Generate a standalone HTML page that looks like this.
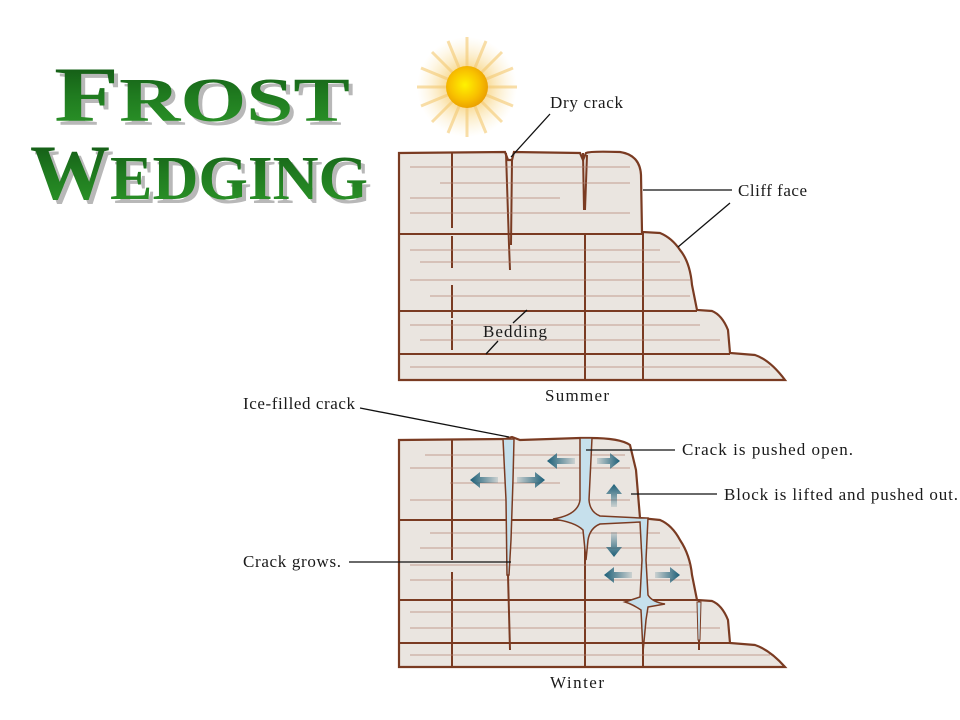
<!DOCTYPE html>
<html><head><meta charset="utf-8"><style>
html,body{margin:0;padding:0;background:#fff;}
svg{display:block;}
text{font-family:"Liberation Serif",serif;fill:#1a1a1a;}
</style></head><body>
<svg width="960" height="720" viewBox="0 0 960 720" xmlns="http://www.w3.org/2000/svg">
<defs>
<linearGradient id="g" x1="0" y1="0" x2="0" y2="1">
<stop offset="0" stop-color="#0f4d12"/><stop offset="0.5" stop-color="#1f7a1f"/><stop offset="1" stop-color="#2e9a2a"/>
</linearGradient>
<radialGradient id="sun" cx="0.45" cy="0.45" r="0.6">
<stop offset="0" stop-color="#fff200"/><stop offset="0.6" stop-color="#f8c000"/><stop offset="1" stop-color="#e89a00"/>
</radialGradient>
<radialGradient id="glow" cx="0.5" cy="0.5" r="0.5">
<stop offset="0.3" stop-color="#f5c860" stop-opacity="0.8"/><stop offset="1" stop-color="#fbe6b0" stop-opacity="0"/>
</radialGradient>
<linearGradient id="arL" x1="0" y1="0" x2="1" y2="0"><stop offset="0" stop-color="#1c5f78"/><stop offset="1" stop-color="#1c5f78" stop-opacity="0.15"/></linearGradient>
<linearGradient id="arR" x1="1" y1="0" x2="0" y2="0"><stop offset="0" stop-color="#1c5f78"/><stop offset="1" stop-color="#1c5f78" stop-opacity="0.15"/></linearGradient>
<linearGradient id="arU" x1="0" y1="0" x2="0" y2="1"><stop offset="0" stop-color="#1c5f78"/><stop offset="1" stop-color="#1c5f78" stop-opacity="0.15"/></linearGradient>
<linearGradient id="arD" x1="0" y1="1" x2="0" y2="0"><stop offset="0" stop-color="#1c5f78"/><stop offset="1" stop-color="#1c5f78" stop-opacity="0.15"/></linearGradient>
</defs>

<!-- Title -->
<g font-family="Liberation Serif,serif" font-weight="bold">
<text x="58" y="125" font-size="78" style="fill:#b8b8b8" textLength="296" lengthAdjust="spacingAndGlyphs">F<tspan font-size="62">ROST</tspan></text>
<text x="54" y="121" font-size="78" style="fill:url(#g)" textLength="296" lengthAdjust="spacingAndGlyphs">F<tspan font-size="62">ROST</tspan></text>
<text x="34" y="203" font-size="78" style="fill:#b8b8b8" textLength="338" lengthAdjust="spacingAndGlyphs">W<tspan font-size="62">EDGING</tspan></text>
<text x="30" y="199" font-size="78" style="fill:url(#g)" textLength="338" lengthAdjust="spacingAndGlyphs">W<tspan font-size="62">EDGING</tspan></text>
</g>

<!-- Sun -->
<circle cx="467" cy="87" r="50" fill="url(#glow)"/>
<g stroke="#f3c870" stroke-width="3" stroke-opacity="0.6" transform="translate(467,87)">
<line x1="0" y1="-50" x2="0" y2="50"/><line x1="-50" y1="0" x2="50" y2="0"/>
<line x1="-35" y1="-35" x2="35" y2="35"/><line x1="-35" y1="35" x2="35" y2="-35"/>
<line x1="-19" y1="-46" x2="19" y2="46"/><line x1="19" y1="-46" x2="-19" y2="46"/>
<line x1="-46" y1="-19" x2="46" y2="19"/><line x1="-46" y1="19" x2="46" y2="-19"/>
</g>
<circle cx="467" cy="87" r="21" fill="url(#sun)"/>

<!-- Summer block -->
<g stroke="#7a3b22" fill="none">
<path d="M399,153 L505,152 L508,160 L512,160 L514,152 L580,153 L583,160 L586,153 Q590,151 620,152 Q640,155 641,175 L642,232 L660,233 Q672,238 680,250 Q690,262 692,285 L697,310 L712,311 Q722,315 728,330 L730,353 L755,355 Q770,360 785,380 L399,380 Z" fill="#eae5e0" stroke-width="2.2"/>
<g stroke-width="2">
<line x1="399" y1="234" x2="642" y2="234"/>
<line x1="399" y1="311" x2="697" y2="311"/>
<line x1="399" y1="354" x2="730" y2="354"/>
<line x1="452" y1="153" x2="452" y2="228"/>
<line x1="452" y1="236" x2="452" y2="268"/>
<line x1="452" y1="285" x2="452" y2="318"/>
<line x1="452" y1="320" x2="452" y2="350"/>
<line x1="585" y1="234" x2="585" y2="380"/>
<line x1="643" y1="232" x2="643" y2="380"/>
<path d="M506,153 L509,245 L510,270 M512,160 L511,245"/>
<path d="M583,153 L584,210 M587,155 L585,210"/>
</g>
<g stroke="#b08070" stroke-width="1" opacity="0.7">
<line x1="410" y1="167" x2="630" y2="167"/><line x1="440" y1="183" x2="630" y2="183"/>
<line x1="410" y1="198" x2="560" y2="198"/><line x1="410" y1="213" x2="630" y2="213"/>
<line x1="410" y1="250" x2="660" y2="250"/><line x1="420" y1="262" x2="680" y2="262"/>
<line x1="410" y1="280" x2="690" y2="280"/><line x1="430" y1="296" x2="690" y2="296"/>
<line x1="410" y1="325" x2="700" y2="325"/><line x1="420" y1="340" x2="720" y2="340"/>
<line x1="410" y1="367" x2="770" y2="367"/>
</g>
</g>

<!-- Winter block -->
<g stroke="#7a3b22" fill="none">
<path d="M399,440 L505,439 L512,437 L520,440 L580,438 L590,438 Q620,438 630,445 L636,470 L640,518 L660,520 Q672,525 680,540 Q690,555 692,575 L697,600 L712,601 Q722,605 728,620 L730,643 L755,645 Q770,650 785,667 L399,667 Z" fill="#eae5e0" stroke-width="2.2"/>
<g stroke-width="2">
<line x1="399" y1="520" x2="643" y2="520"/>
<line x1="399" y1="600" x2="697" y2="600"/>
<line x1="399" y1="643" x2="730" y2="643"/>
<line x1="452" y1="440" x2="452" y2="560"/>
<line x1="452" y1="572" x2="452" y2="667"/>
<line x1="585" y1="520" x2="585" y2="667"/>
<line x1="643" y1="520" x2="643" y2="667"/>
<line x1="699" y1="600" x2="699" y2="650"/>
</g>
<g stroke="#b08070" stroke-width="1" opacity="0.7">
<line x1="425" y1="455" x2="625" y2="455"/><line x1="410" y1="468" x2="630" y2="468"/>
<line x1="450" y1="483" x2="560" y2="483"/><line x1="410" y1="500" x2="630" y2="500"/>
<line x1="430" y1="533" x2="660" y2="533"/><line x1="420" y1="548" x2="680" y2="548"/>
<line x1="410" y1="565" x2="690" y2="565"/><line x1="410" y1="580" x2="690" y2="580"/>
<line x1="410" y1="612" x2="700" y2="612"/><line x1="410" y1="628" x2="720" y2="628"/>
<line x1="410" y1="655" x2="770" y2="655"/>
</g>
<path d="M503,439 L514,439 L513,480 L511,540 L509,575 L507,575 L506,500 Z" fill="#c6e0ec" stroke-width="1.5"/>
<line x1="508" y1="575" x2="510" y2="650" stroke-width="2"/>
<path d="M580,438 L592,438 L589,500 Q590,512 600,516 L640,518 L648,518 L646,560 L648,595 Q652,602 665,604 L648,607 L646,620 L643,652 L641,610 Q632,604 625,602 L640,597 L642,560 L640,522 L600,524 Q590,528 588,540 L586,560 L583,530 Q575,522 553,519 Q578,515 580,500 Z" fill="#c6e0ec" stroke-width="1.5"/>
<path d="M697,602 L701,602 L700,640 L698,640 Z" fill="#c6e0ec" stroke-width="1"/>
</g>

<!-- arrows -->
<path d="M470,480 L480,472 L480,477 L498,477 L498,483 L480,483 L480,488 Z" fill="url(#arL)"/>
<path d="M545,480 L535,472 L535,477 L517,477 L517,483 L535,483 L535,488 Z" fill="url(#arR)"/>
<path d="M547,461 L557,453 L557,458 L575,458 L575,464 L557,464 L557,469 Z" fill="url(#arL)"/>
<path d="M620,461 L610,453 L610,458 L597,458 L597,464 L610,464 L610,469 Z" fill="url(#arR)"/>
<path d="M614,484 L622,494 L617,494 L617,507 L611,507 L611,494 L606,494 Z" fill="url(#arU)"/>
<path d="M614,557 L622,547 L617,547 L617,532 L611,532 L611,547 L606,547 Z" fill="url(#arD)"/>
<path d="M604,575 L614,567 L614,572 L632,572 L632,578 L614,578 L614,583 Z" fill="url(#arL)"/>
<path d="M680,575 L670,567 L670,572 L655,572 L655,578 L670,578 L670,583 Z" fill="url(#arR)"/>

<!-- leaders -->
<g stroke="#111" stroke-width="1.3">
<line x1="550" y1="114" x2="511" y2="157"/>
<line x1="643" y1="190" x2="732" y2="190"/>
<line x1="678" y1="247" x2="730" y2="203"/>
<line x1="527" y1="310" x2="513" y2="323"/>
<line x1="486" y1="354" x2="498" y2="341"/>
<line x1="360" y1="408" x2="509" y2="437"/>
<line x1="586" y1="450" x2="675" y2="450"/>
<line x1="631" y1="494" x2="717" y2="494"/>
<line x1="349" y1="562" x2="511" y2="562"/>
</g>

<!-- labels -->
<g font-size="17">
<text x="550" y="108" textLength="73">Dry crack</text>
<text x="738" y="196" textLength="69">Cliff face</text>
<text x="483" y="337" textLength="64">Bedding</text>
<text x="545" y="401" textLength="64">Summer</text>
<text x="243" y="409" textLength="112">Ice-filled crack</text>
<text x="682" y="455" textLength="171">Crack is pushed open.</text>
<text x="724" y="500" textLength="234">Block is lifted and pushed out.</text>
<text x="243" y="567" textLength="98">Crack grows.</text>
<text x="550" y="688" textLength="54">Winter</text>
</g>
</svg>
</body></html>
